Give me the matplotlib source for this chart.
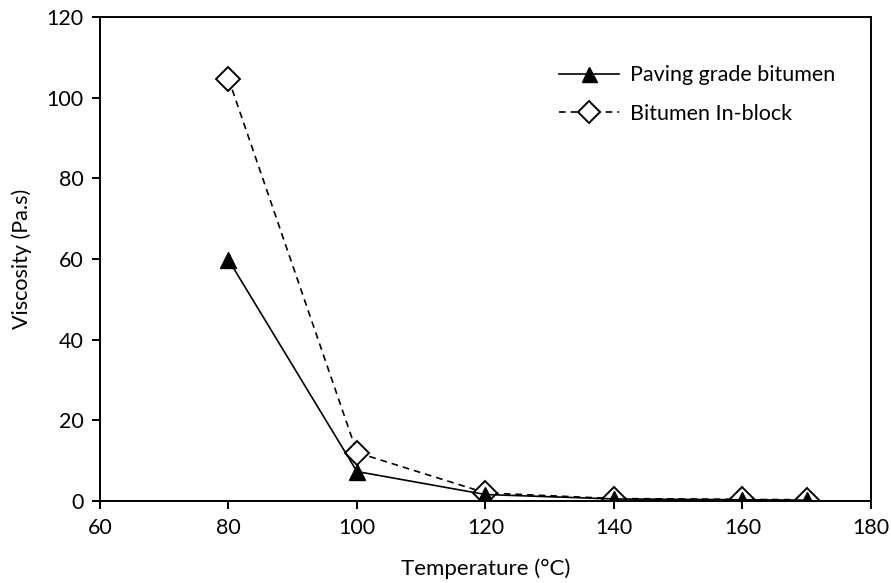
import matplotlib.pyplot as plt

plt.rcParams['font.family'] = ['Lato', 'DejaVu Sans']

# Viscosity vs temperature
temperature = [80, 100, 120, 140, 160, 170]
paving_grade = [59.8, 7.3, 1.6, 0.5, 0.3, 0.2]
in_block = [104.7, 12.0, 2.0, 0.6, 0.4, 0.3]

fig = plt.figure(figsize=(8.91, 5.83), dpi=100)
ax = fig.add_axes([0.1122, 0.1407, 0.8653, 0.8302])

l1, = ax.plot(temperature, paving_grade, color='black', linewidth=1.2, marker='^',
              markersize=12, markerfacecolor='black', markeredgecolor='black',
              label='Paving grade bitumen', zorder=3)
l2, = ax.plot(temperature, in_block, color='black', linewidth=1.2, linestyle=(0, (4, 3)),
              marker='D', markersize=12, markerfacecolor='white', markeredgecolor='black',
              markeredgewidth=1.4, label='Bitumen In-block', zorder=2)

ax.set_xlim(60, 180)
ax.set_ylim(0, 120)
ax.set_xticks(range(60, 181, 20))
ax.set_yticks(range(0, 121, 20))
ax.tick_params(direction='out', length=6, width=1.4, labelsize=15.5, pad=6,
               top=False, right=False)
for s in ax.spines.values():
    s.set_linewidth(1.4)

ax.set_xlabel('Temperature (°C)', fontsize=16, labelpad=15)
ax.set_ylabel('Viscosity (Pa.s)', fontsize=15.5, labelpad=10)

ax.legend(handles=[l1, l2], loc='upper left', bbox_to_anchor=(0.57, 0.94),
          frameon=False, fontsize=15.5, handlelength=2.8, handletextpad=0.5,
          labelspacing=0.85, markerscale=0.9)

plt.savefig('out.png', dpi=100)
